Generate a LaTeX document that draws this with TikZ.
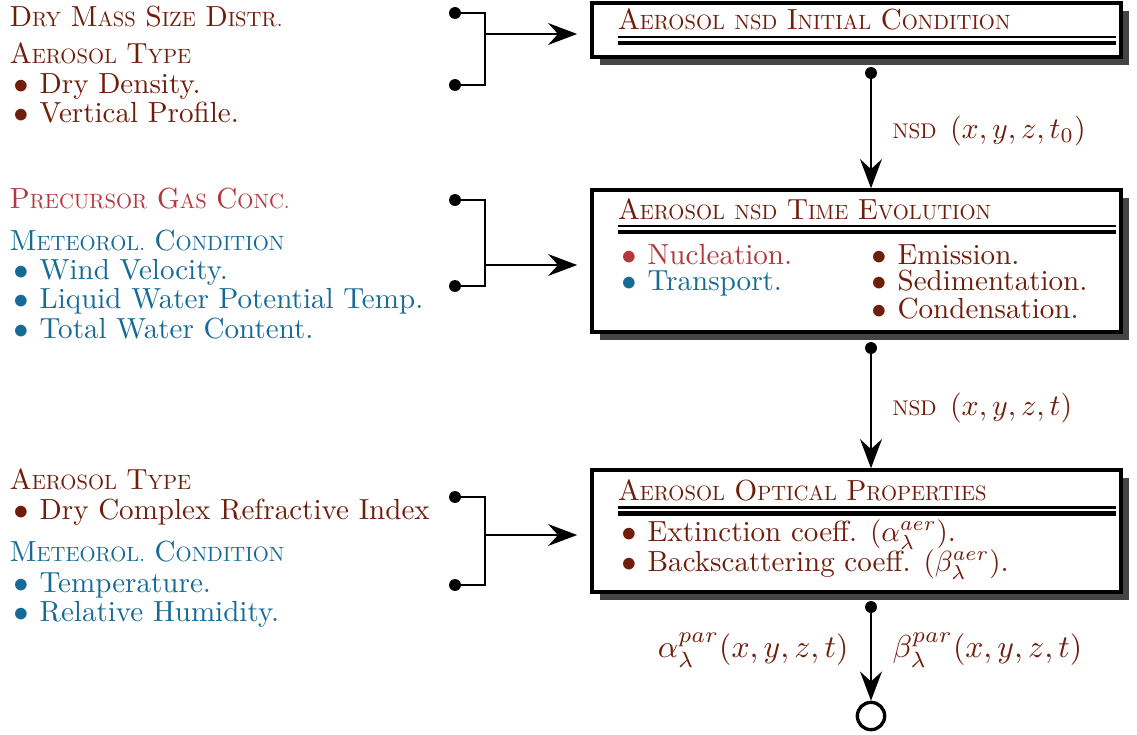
\documentclass[tikz,border=0pt]{standalone}
\usetikzlibrary{arrows.meta,shadows,fit}
\definecolor{brn}{RGB}{112,30,12}
\definecolor{rd}{RGB}{178,56,62}
\definecolor{bl}{RGB}{22,106,150}
% small capitals built from reduced upper-case letters
\newcommand{\sm}[1]{\scalebox{0.71}{#1}}
\newcommand{\bitem}{\makebox[10.2pt][l]{\hspace*{-1.6pt}\raisebox{-1pt}{\scalebox{1.4}{\textbullet}}}}

\begin{document}
\begin{tikzpicture}[x=0.344pt,y=-0.344pt,
  txt/.style={anchor=base west, inner sep=0pt, outer sep=0pt},
  dot/.style={circle, fill=black, inner sep=0pt, minimum size=4.1pt},
  wire/.style={line width=1pt},
  arr/.style={wire, -{Stealth[length=10pt,width=7.5pt,inset=3.4pt]}},
  panel/.style={draw, line width=1.2pt, fill=white, inner sep=0pt,
    drop shadow={shadow xshift=2.7pt, shadow yshift=-2.7pt, fill=black!73, opacity=1}},
  thinrule/.style={line width=0.9pt},
  thickrule/.style={line width=1.4pt},
  endpt/.style={circle, draw, line width=1.15pt, fill=white, minimum size=9.4pt, inner sep=0pt}]

\useasboundingbox (0,0) rectangle (1137,734);

% ---------- input lists on the left ----------
\node[txt, text=brn] (a1) at (10,26) {D\sm{RY} M\sm{ASS} S\sm{IZE} D\sm{ISTR.}};
\node[txt, text=brn] (a2) at (10,63) {A\sm{EROSOL} T\sm{YPE}};
\node[txt, text=brn] (a3) at (10,93) {\bitem Dry Density.};
\node[txt, text=brn] (a4) at (10,122) {\bitem Vertical Profile.};

\node[txt, text=rd] (b1t) at (10,208) {P\sm{RECURSOR} G\sm{AS} C\sm{ONC.}};
\node[txt, text=bl] (b2t) at (10,250) {M\sm{ETEOROL.} C\sm{ONDITION}};
\node[txt, text=bl] (b3t) at (10,279) {\bitem Wind Velocity.};
\node[txt, text=bl] (b4t) at (10,308) {\bitem Liquid Water Potential Temp.};
\node[txt, text=bl] (b5t) at (10,338) {\bitem Total Water Content.};

\node[txt, text=brn] (c1t) at (10,489) {A\sm{EROSOL} T\sm{YPE}};
\node[txt, text=brn] (c2t) at (10,519) {\bitem Dry Complex Refractive Index};
\node[txt, text=bl] (c3t) at (10,561) {M\sm{ETEOROL.} C\sm{ONDITION}};
\node[txt, text=bl] (c4t) at (10,592) {\bitem Temperature.};
\node[txt, text=bl] (c5t) at (10,621) {\bitem Relative Humidity.};

% ---------- processing boxes ----------
\coordinate (p1nw) at (592,3);   \coordinate (p1se) at (1121,57);
\coordinate (p2nw) at (592,190); \coordinate (p2se) at (1121,332);
\coordinate (p3nw) at (592,470); \coordinate (p3se) at (1121,592);
\node[panel, fit=(p1nw)(p1se)] (P1) {};
\node[panel, fit=(p2nw)(p2se)] (P2) {};
\node[panel, fit=(p3nw)(p3se)] (P3) {};

% box 1
\node[txt, text=brn] (P1t) at (618,29) {A\sm{EROSOL} \sm{NSD} I\sm{NITIAL} C\sm{ONDITION}};
\draw[thinrule]  (618,37) -- (1116,37);
\draw[thickrule] (618,43) -- (1116,43);

% box 2
\node[txt, text=brn] (P2t) at (618,219) {A\sm{EROSOL} \sm{NSD} T\sm{IME} E\sm{VOLUTION}};
\draw[thinrule]  (618,226) -- (1116,226);
\draw[thickrule] (618,232) -- (1116,232);
\node[txt, text=rd]  (P2a) at (618,264) {\bitem Nucleation.};
\node[txt, text=bl]  (P2b) at (618,290) {\bitem Transport.};
\node[txt, text=brn] (P2c) at (868,264) {\bitem Emission.};
\node[txt, text=brn] (P2d) at (868,290) {\bitem Sedimentation.};
\node[txt, text=brn] (P2e) at (868,318) {\bitem Condensation.};

% box 3
\node[txt, text=brn] (P3t) at (618,500) {A\sm{EROSOL} O\sm{PTICAL} P\sm{ROPERTIES}};
\draw[thinrule]  (618,507.5) -- (1116,507.5);
\draw[thickrule] (618,513.5) -- (1116,513.5);
\node[txt, text=brn] (P3a) at (618,541) {\bitem Extinction coeff. ($\alpha_\lambda^{aer}$).};
\node[txt, text=brn] (P3b) at (618,571) {\bitem Backscattering coeff. ($\beta_\lambda^{aer}$).};

% ---------- bracket connectors from the inputs ----------
\node[dot] (i1a) at (455,13) {};  \node[dot] (i1b) at (455,85) {};
\node[dot] (i2a) at (455,200) {}; \node[dot] (i2b) at (455,286) {};
\node[dot] (i3a) at (455,497) {}; \node[dot] (i3b) at (455,585) {};
\coordinate (j1) at (485,34);
\coordinate (j2) at (485,265);
\coordinate (j3) at (485,535);

\draw[wire] (i1a.center) -| (j1) |- (i1b.center);
\draw[wire] (i2a.center) -| (j2) |- (i2b.center);
\draw[wire] (i3a.center) -| (j3) |- (i3b.center);
\draw[arr, shorten >=4.5pt] (j1) -- (j1 -| P1.west);
\draw[arr, shorten >=4.5pt] (j2) -- (j2 -| P2.west);
\draw[arr, shorten >=4.5pt] (j3) -- (j3 -| P3.west);

% ---------- vertical flow between boxes ----------
\node[dot] (o1) at (871,73) {};
\node[dot] (o2) at (871,348) {};
\node[dot] (o3) at (871,607) {};
\node[endpt] (E) at (871,716) {};

\draw[arr] (o1.center) -- (o1 |- P2.north)
  node[midway, right=3.6pt, text=brn] (n1) {\scalebox{1.03}{\sm{NSD}\hspace{4.5pt}$(x, y, z, t_0)$}};
\draw[arr] (o2.center) -- (o2 |- P3.north)
  node[midway, right=3.6pt, text=brn] (n2) {\scalebox{1.03}{\sm{NSD}\hspace{4.5pt}$(x, y, z, t)$}};
\draw[arr] (o3.center) -- (E.north);
\node[text=brn, anchor=east, inner sep=0pt] (la) at (849,650) {\scalebox{1.09}{$\alpha_\lambda^{par}(x, y, z, t)$}};
\node[text=brn, anchor=west, inner sep=0pt] (lb) at (892,650) {\scalebox{1.09}{$\beta_\lambda^{par}(x, y, z, t)$}};

\end{tikzpicture}
\end{document}
